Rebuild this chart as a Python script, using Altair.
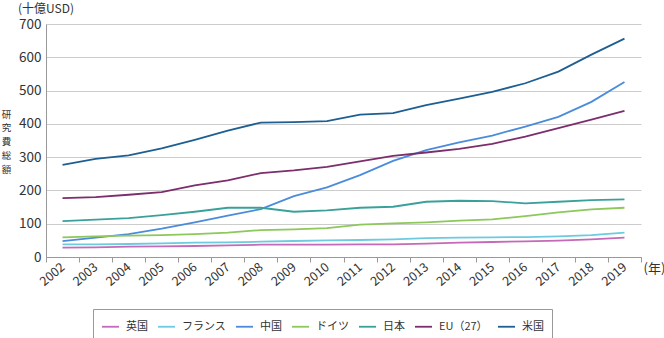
import altair as alt
import pandas as pd

years = list(range(2002, 2020))
series_names = ["英国", "フランス", "中国", "ドイツ", "日本", "EU（27）", "米国"]
colors = ["#c46ab8", "#6ccbe0", "#4a8cdb", "#8cc85a", "#3aa19a", "#7b2d6c", "#1d5f92"]

uk = [28, 29, 31, 32, 33, 35, 37, 37, 37, 38, 38, 40, 43, 45, 47, 49, 53, 58]
france = [38, 38, 39, 41, 43, 44, 46, 48, 50, 51, 53, 57, 58, 59, 60, 62, 66, 73]
china = [48, 58, 69, 85, 104, 124, 144, 183, 209, 246, 289, 321, 344, 365, 392, 421, 466, 526]
germany = [59, 62, 64, 66, 69, 73, 81, 83, 87, 97, 101, 104, 109, 113, 123, 134, 143, 148]
japan = [108, 112, 117, 126, 136, 148, 148, 136, 140, 148, 151, 166, 169, 168, 161, 166, 171, 173]
eu27 = [177, 180, 187, 195, 215, 230, 252, 260, 271, 287, 304, 314, 325, 340, 362, 387, 413, 439]
usa = [277, 295, 305, 326, 352, 380, 404, 405, 408, 428, 432, 456, 476, 496, 522, 557, 608, 656]

all_values = [uk, france, china, germany, japan, eu27, usa]

rows = []
for name, vals in zip(series_names, all_values):
    for y, v in zip(years, vals):
        rows.append({"year": str(y), "series": name, "value": v})
df = pd.DataFrame(rows)

FONT = "Noto Sans CJK JP"

lines = alt.Chart(df).mark_line(strokeWidth=1.8).encode(
    x=alt.X(
        "year:O",
        bandPosition=0.5,
        scale=alt.Scale(type="band", paddingInner=0, paddingOuter=0),
        axis=alt.Axis(
            title="(年)",
            titleAngle=0,
            titleAlign="left",
            titleBaseline="middle",
            titleX=597,
            titleY=11,
            titleFont=FONT,
            titleFontSize=13,
            titleFontWeight="normal",
            titleColor="#333333",
            labelAngle=-40,
            labelAlign="right",
            labelBaseline="middle",
            labelFont=FONT,
            labelFontSize=12.5,
            labelColor="#333333",
            labelPadding=3,
            tickBand="extent",
            tickSize=5,
            tickColor="#999999",
            domainColor="#999999",
            grid=False,
        ),
    ),
    y=alt.Y(
        "value:Q",
        scale=alt.Scale(domain=[0, 700]),
        axis=alt.Axis(
            values=[0, 100, 200, 300, 400, 500, 600, 700],
            title=["研", "究", "費", "総", "額"],
            titleAngle=0,
            titleAlign="center",
            titleBaseline="top",
            titleX=-40,
            titleY=85,
            titleFont=FONT,
            titleFontSize=9.5,
            titleLineHeight=13.8,
            titleFontWeight="normal",
            titleColor="#333333",
            labelFont=FONT,
            labelFontSize=13.5,
            labelColor="#333333",
            labelPadding=5,
            ticks=False,
            domainColor="#999999",
            gridColor="#cccccc",
            gridWidth=1.2,
        ),
    ),
    color=alt.Color(
        "series:N",
        scale=alt.Scale(domain=series_names, range=colors),
        legend=alt.Legend(
            title=None,
            orient="none",
            legendX=47,
            legendY=285,
            direction="horizontal",
            columns=7,
            symbolType="stroke",
            symbolSize=289,
            symbolStrokeWidth=1.8,
            labelFont=FONT,
            labelFontSize=11,
            labelColor="#333333",
            labelOffset=6,
            columnPadding=6,
            padding=8,
            strokeColor="#999999",
            fillColor="white",
        ),
    ),
    order=alt.Order("year:O"),
)

unit_label = alt.Chart(pd.DataFrame({"t": ["(十億USD)"]})).mark_text(
    align="left", baseline="middle", font=FONT, fontSize=12, color="#333333"
).encode(x=alt.value(-28), y=alt.value(-15), text="t:N")

chart = alt.layer(lines, unit_label).properties(
    width=595,
    height=233,
    autosize=alt.AutoSizeParams(type="none"),
    padding={"left": 46, "top": 24, "right": 23, "bottom": 81},
).configure_view(stroke=None)

chart.save("out.html", embed_options={"renderer": "svg", "actions": False})
